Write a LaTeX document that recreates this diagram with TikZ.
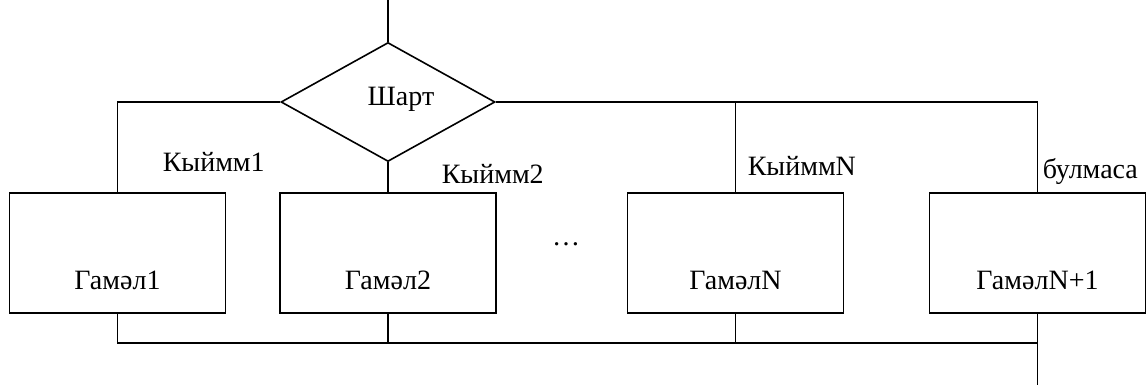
\documentclass[tikz,border=0pt]{standalone}
\usepackage{fontspec}
\setmainfont{Liberation Serif}
\usetikzlibrary{shapes.geometric}

\tikzset{
  cond/.style={draw, diamond, minimum width=107pt, minimum height=59.5pt, inner sep=0pt},
  act/.style={draw, rectangle, minimum width=108pt, inner sep=0pt, text height=48pt, text depth=12pt},
  lbl/.style={anchor=base west, inner sep=0pt}
}

\begin{document}
\begin{tikzpicture}[x=0.5pt, y=-0.5pt, line width=0.8pt, font=\fontsize{14}{16}\selectfont]
      \useasboundingbox (0, 0) rectangle (1147, 385);

      \node[cond] (test) at (388, 102) {};
      \node[anchor=base] (testtext) at (401, 106) {Шарт};

      \node[act] (act1) at (117.5, 253) {Гамәл1};
      \node[act] (act2) at (388, 253) {Гамәл2};
      \node[act] (actN) at (735.5, 253) {ГамәлN};
      \node[act] (actE) at (1037.5, 253) {ГамәлN+1};
      \node[anchor=base] (dots) at (566, 246) {…};

      \node[lbl] (val1) at (162, 172) {Кыймм1};
      \node[lbl] (val2) at (441, 184) {Кыймм2};
      \node[lbl] (valN) at (747, 176) {КыйммN};
      \node[lbl] (other) at (1042, 179) {булмаса};

      \coordinate (entry) at (388, 0);
      \coordinate (merge) at (1037.5, 343);
      \coordinate (exit) at (1037.5, 385);

      \draw (entry) -- (test);
      \draw (test.west) -| (act1);
      \draw (test) -- (act2);
      \draw (test.east) -| (actN);
      \draw (test.east) -| (actE);
      \draw (act1) |- (merge);
      \draw (act2) |- (merge);
      \draw (actN) |- (merge);
      \draw (actE) -- (exit);
    \end{tikzpicture}
\end{document}
